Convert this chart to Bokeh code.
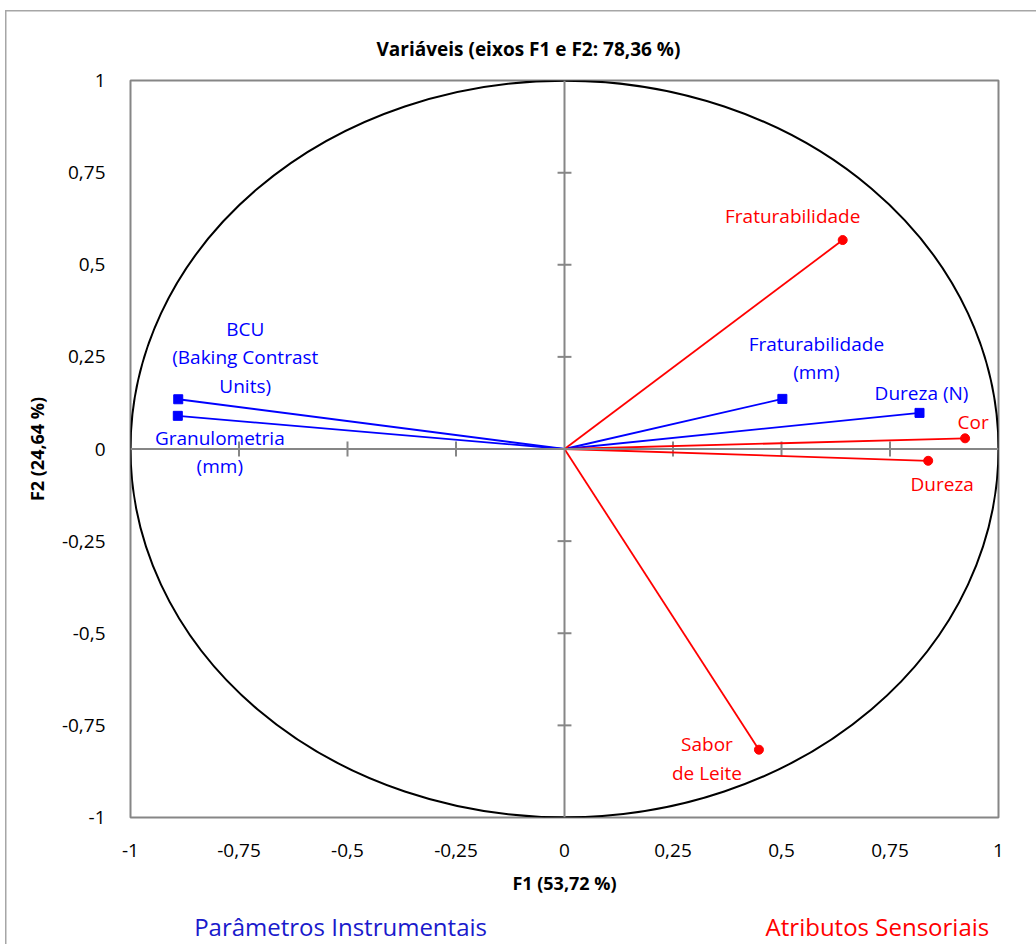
from bokeh.plotting import figure
from bokeh.layouts import column
from bokeh.models import Span, FixedTicker, Range1d, ColumnDataSource
from bokeh.core.properties import value
from bokeh.embed import file_html
from bokeh.resources import INLINE

# ---- data ----
inst_names = ["BCU\n(Baking Contrast\nUnits)", "Granulometria\n(mm)", "Fraturabilidade\n(mm)", "Dureza (N)"]
inst_f1 = [-0.890, -0.891, 0.502, 0.818]
inst_f2 = [0.135, 0.090, 0.136, 0.098]

sens_names = ["Fraturabilidade", "Cor", "Dureza", "Sabor\nde Leite"]
sens_f1 = [0.641, 0.923, 0.838, 0.448]
sens_f2 = [0.567, 0.029, -0.032, -0.816]

ticks = [-1, -0.75, -0.5, -0.25, 0, 0.25, 0.5, 0.75, 1]
tick_labels = ["-1", "-0,75", "-0,5", "-0,25", "0", "0,25", "0,5", "0,75", "1"]

title_text = "Variáveis (eixos F1 e F2: 78,36 %)"
x_title = "F1 (53,72 %)"
y_title = "F2 (24,64 %)"
legend_texts = ["Parâmetros Instrumentais", "Atributos Sensoriais"]
legend_colors = ["#1a1acc", "#FF0000"]

# label offsets in screen pixels (style)
inst_dx = [67, 42, 34, 2]
inst_dy = [-42, 36, -41, -20]
sens_dx = [-50, 8, 14, -52]
sens_dy = [-24, -16, 23, 9]

BLUE = "#0000FF"
RED = "#FF0000"
GRAY = "#868686"
FONT = "Open Sans"

p = figure(width=1036, height=905, frame_width=868, frame_height=737,
           x_range=Range1d(-1, 1), y_range=Range1d(-1, 1),
           output_backend="svg", toolbar_location=None,
           min_border_left=130, min_border_right=38, min_border_top=80, min_border_bottom=88)
p.xgrid.visible = False
p.ygrid.visible = False
p.outline_line_color = GRAY
p.outline_line_width = 2
p.background_fill_color = "white"
p.border_fill_color = None

p.title.text = title_text
p.title.align = "left"
p.title.offset = 246
p.title.standoff = 38
p.title.text_font = FONT
p.title.text_font_size = "19px"
p.title.text_font_style = "bold"
p.title.text_color = "black"

for ax in (p.xaxis[0], p.yaxis[0]):
    ax.ticker = FixedTicker(ticks=ticks)
    ax.major_label_overrides = {t: l for t, l in zip(ticks, tick_labels)}
    ax.axis_line_color = None
    ax.major_tick_line_color = None
    ax.minor_tick_line_color = None
    ax.major_label_text_font = FONT
    ax.major_label_text_font_size = "19px"
    ax.major_label_text_color = "black"
    ax.axis_label_text_font = FONT
    ax.axis_label_text_font_size = "18px"
    ax.axis_label_text_font_style = "bold"
    ax.axis_label_text_color = "black"

p.xaxis.axis_label = x_title
p.yaxis.axis_label = y_title
p.xaxis.major_label_standoff = 20
p.xaxis.axis_label_standoff = 11
p.yaxis.major_label_standoff = 19
p.yaxis.axis_label_standoff = 10

# zero lines
p.add_layout(Span(location=0, dimension="width", line_color=GRAY, line_width=2))
p.add_layout(Span(location=0, dimension="height", line_color=GRAY, line_width=2))

# tick marks on zero lines
inner = [t for t in ticks if t not in (-1, 0, 1)]
hy = 0.0204
hx = 0.016
p.segment(x0=inner, y0=[-hy] * len(inner), x1=inner, y1=[hy] * len(inner), line_color=GRAY, line_width=2)
p.segment(x0=[-hx] * len(inner), y0=inner, x1=[hx] * len(inner), y1=inner, line_color=GRAY, line_width=2)

# correlation circle
p.ellipse(x=[0], y=[0], width=[2], height=[2], fill_color=None, line_color="black", line_width=2)

# vectors
p.segment(x0=[0] * len(inst_f1), y0=[0] * len(inst_f1), x1=inst_f1, y1=inst_f2, line_color=BLUE, line_width=1.8)
p.segment(x0=[0] * len(sens_f1), y0=[0] * len(sens_f1), x1=sens_f1, y1=sens_f2, line_color=RED, line_width=1.8)
p.scatter(inst_f1, inst_f2, marker="square", size=9, fill_color=BLUE, line_color=BLUE)
p.scatter(sens_f1, sens_f2, marker="circle", size=9, fill_color=RED, line_color=RED)

inst_src = ColumnDataSource(dict(x=inst_f1, y=inst_f2, t=inst_names, dx=inst_dx, dy=inst_dy))
sens_src = ColumnDataSource(dict(x=sens_f1, y=sens_f2, t=sens_names, dx=sens_dx, dy=sens_dy))
for src, col in ((inst_src, BLUE), (sens_src, RED)):
    p.text(x="x", y="y", text="t", x_offset="dx", y_offset="dy", source=src,
           text_font=value(FONT), text_font_size=value("19px"), text_color=col,
           text_align="center", text_baseline="middle", text_line_height=1.1)

# footer legend strip (same horizontal frame as the chart)
leg = figure(width=1036, height=39, frame_width=868, frame_height=39,
             x_range=Range1d(-1, 1), y_range=Range1d(0, 39),
             output_backend="svg", toolbar_location=None,
             min_border_left=130, min_border_right=38, min_border_top=0, min_border_bottom=0)
leg.axis.visible = False
leg.xgrid.visible = False
leg.ygrid.visible = False
leg.outline_line_color = None
leg.background_fill_color = None
leg.border_fill_color = None
leg_src = ColumnDataSource(dict(x=[-0.516, 0.721], y=[18, 18], t=legend_texts, c=legend_colors))
leg.text(x="x", y="y", text="t", text_color="c", source=leg_src,
         text_font=value(FONT), text_font_size=value("24px"),
         text_align="center", text_baseline="middle")

layout = column(p, leg, spacing=0,
                styles={"box-shadow": "inset 5px 10px 0 0 white, inset 6.5px 11.5px 0 0 #a6a6a6"})
open("out.html", "w").write(file_html(layout, INLINE))
